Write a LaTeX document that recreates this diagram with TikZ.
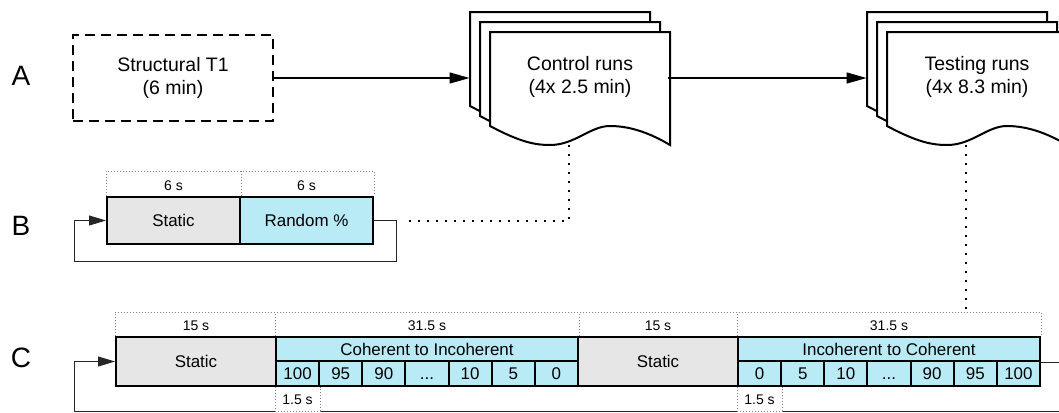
\documentclass[tikz,border=0pt]{standalone}
\usepackage{fontspec}
\setmainfont{Liberation Sans}
\usetikzlibrary{arrows.meta}

\definecolor{staticgray}{HTML}{E6E6E6}
\definecolor{runblue}{HTML}{B9EBF7}
\definecolor{loopgray}{HTML}{262626}

% one sheet of a run stack, #1,#2 = top left corner
\newcommand{\runsheet}[2]{%
  \draw[sheet] (#1,#2) -- (#1+180,#2) -- (#1+180,#2+113)
    .. controls (#1+160,#2+101) and (#1+140,#2+94) .. (#1+120,#2+94)
    .. controls (#1+100,#2+94) and (#1+85,#2+113) .. (#1+60,#2+113)
    .. controls (#1+45,#2+113) and (#1+30,#2+110) .. (#1,#2+94) -- cycle;}
\newcommand{\elide}{...}

\begin{document}
\begin{tikzpicture}[x=0.75pt,y=-0.75pt,
  every node/.style={inner sep=0pt},
  rowlbl/.style={font=\fontsize{21}{24}\selectfont},
  maintxt/.style={align=center,font=\fontsize{14.6}{17.6}\selectfont},
  durtxt/.style={font=\fontsize{10.5}{12}\selectfont,text height=7.6pt,text depth=0pt},
  blk/.style={draw,line width=1.5pt,font=\fontsize{12.7}{15}\selectfont,text height=9.1pt,text depth=0pt},
  sheet/.style={draw,fill=white,line width=1.5pt},
  flow/.style={line width=1.5pt,-{Triangle[length=15pt,width=8pt]}},
  loopline/.style={draw=loopgray,line width=0.75pt,-{Triangle[length=12.75pt,width=7.5pt]}},
  hdr/.style={draw=gray,line width=0.75pt,dash pattern=on 0.75pt off 1.5pt},
  link/.style={line width=1.5pt,dash pattern=on 1.5pt off 5.25pt}]
\path[use as bounding box] (0,0) rectangle (1059,412);
\clip (0,0) rectangle (1059,412);

% A
\node[rowlbl] (rowa) at (21,76) {A};
\node[draw,line width=1.5pt,dash pattern=on 7.5pt off 4.5pt,
  minimum width=150pt,minimum height=64.5pt,maintxt] (t1) at (173,78) {Structural T1\\(6 min)};
\runsheet{470}{12}\runsheet{480}{22}\runsheet{490}{32}
\node[minimum width=148.5pt,minimum height=99.75pt] (ctrl) at (569,78) {};
\node[maintxt] (ctrltxt) at (580,77) {Control runs\\(4x 2.5 min)};
\runsheet{867}{12}\runsheet{877}{22}\runsheet{887}{32}
\node[minimum width=148.5pt,minimum height=99.75pt] (test) at (966,78) {};
\node[maintxt] (testtxt) at (977,77) {Testing runs\\(4x 8.3 min)};
\draw[flow] (t1.east) -- (ctrl.west);
\draw[flow] (ctrl.east) -- (test.west);

% B
\node[rowlbl] (rowb) at (21,226) {B};
\node[blk,fill=staticgray,minimum width=99.75pt,minimum height=35.25pt] (bstat) at (173.5,220.5) {Static};
\node[blk,fill=runblue,minimum width=99.75pt,minimum height=35.25pt] (brand) at (306.5,220.5) {Random \%};
\draw[hdr] (bstat.north west) -- ++(0,-25) -| (brand.north east);
\draw[hdr] (bstat.north east) -- ++(0,-25);
\node[durtxt] (bdur1) at (173.5,185) {6 s};
\node[durtxt] (bdur2) at (306.5,185) {6 s};
\draw[loopline] (brand.east) -- ++(22,0) coordinate (bback) -- ++(0,41) -- ++(-322,0) |- (bstat.west);
\draw[link] (ctrl.south) |- ([xshift=6pt]bback);

% C
\node[rowlbl] (rowc) at (21,358) {C};
\node[blk,fill=staticgray,minimum width=120pt,minimum height=36.75pt] (cstat1) at (196,361.5) {Static};
\node[blk,fill=runblue,minimum width=226.5pt,minimum height=18pt] (cohhd) at (427,349) {Coherent to Incoherent};
\foreach \v [count=\i] in {100,95,90,\elide,10,5,0}
  \node[blk,fill=runblue,minimum width=32.36pt,minimum height=18.75pt] (coh\i) at (276+\i*43.143-21.57,373.5) {\v};
\node[blk,fill=staticgray,minimum width=120pt,minimum height=36.75pt] (cstat2) at (658,361.5) {Static};
\node[blk,fill=runblue,minimum width=226.5pt,minimum height=18pt] (inchd) at (889,349) {Incoherent to Coherent};
\foreach \v [count=\i] in {0,5,10,\elide,90,95,100}
  \node[blk,fill=runblue,minimum width=32.36pt,minimum height=18.75pt] (inc\i) at (738+\i*43.143-21.57,373.5) {\v};

\coordinate (ctop) at (116,312);
\draw[hdr] (cstat1.north west) |- (ctop -| inchd.north east) -- (inchd.north east);
\foreach \n in {cohhd.north west,cohhd.north east,inchd.north west}
  \draw[hdr] (\n) -- (\n |- ctop);
\node[durtxt] (cdur1) at (196,325) {15 s};
\node[durtxt] (cdur2) at (427,325) {31.5 s};
\node[durtxt] (cdur3) at (658,325) {15 s};
\node[durtxt] (cdur4) at (889,325) {31.5 s};

\draw[loopline] (inchd.south east) -- ++(30,0) -- ++(0,49) -- ++(-997,0) |- (cstat1.west);
\draw[link] (test.south) -- (test.south |- ctop);

\foreach \c in {coh1,inc1} {
  \fill[white] ([yshift=-1.2pt]\c.south west) rectangle ([yshift=-19pt]\c.south east);
  \draw[hdr] (\c.south west) -- ++(0,24) -| (\c.south east);
  \node[durtxt] at ([yshift=-9pt]\c.south) {1.5 s};
}
\end{tikzpicture}
\end{document}
